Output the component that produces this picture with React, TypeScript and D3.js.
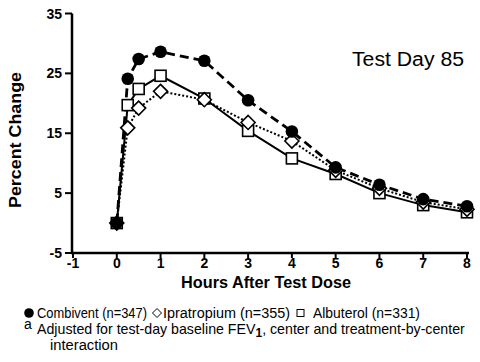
import React from "react";
import * as d3 from "d3";

const hours = [0, 0.25, 0.5, 1, 2, 3, 4, 5, 6, 7, 8];
const combivent = [0, 24.1, 27.4, 28.6, 27.1, 20.5, 15.3, 9.3, 6.4, 4.0, 2.8];
const ipratropium = [0, 15.9, 19.2, 22.0, 20.6, 16.8, 13.7, 8.8, 5.8, 3.5, 2.3];
const albuterol = [0, 19.7, 22.4, 24.6, 20.8, 15.4, 10.8, 8.2, 5.0, 3.0, 1.8];
const xTicks = [-1, 0, 1, 2, 3, 4, 5, 6, 7, 8];
const yTicks = [-5, 5, 15, 25, 35];

const FONT = "'Liberation Sans Narrow', 'Arial Narrow', 'Liberation Sans', Arial, sans-serif";
const FONT_REG = "'Liberation Sans', Arial, sans-serif";

export default function App() {
  const x = d3.scaleLinear().domain([-1, 8]).range([73, 467]);
  const y = d3.scaleLinear().domain([-5, 35]).range([253, 13.5]);
  const line = (vals: number[]) =>
    d3.line<number>().x((_, i) => x(hours[i])).y((v) => y(v))(vals) || "";

  const diamond = (cx: number, cy: number, r: number) =>
    `M${cx},${cy - r}L${cx + r},${cy}L${cx},${cy + r}L${cx - r},${cy}Z`;

  return (
    <svg width={480} height={362} style={{ position: "absolute", left: 0, top: 0, background: "#fff" }}>
      {/* axes */}
      <line x1={72} x2={72} y1={y(35)} y2={y(-5) + 1} stroke="#000" strokeWidth={2.5} />
      <line x1={71} x2={469} y1={y(-5)} y2={y(-5)} stroke="#000" strokeWidth={2.5} />
      {yTicks.map((t) => (
        <g key={"y" + t}>
          <line x1={65} x2={72} y1={y(t)} y2={y(t)} stroke="#000" strokeWidth={2} />
          <text x={62} y={y(t) + 5} textAnchor="end" fontFamily={FONT} fontWeight="bold" fontSize={14}>
            {t}
          </text>
        </g>
      ))}
      {xTicks.map((t) => (
        <g key={"x" + t}>
          <line x1={x(t)} x2={x(t)} y1={y(-5)} y2={y(-5) + 5} stroke="#000" strokeWidth={2} />
          <text x={x(t)} y={268} textAnchor="middle" fontFamily={FONT} fontWeight="bold" fontSize={14}>
            {t}
          </text>
        </g>
      ))}
      <text
        transform="translate(21,140) rotate(-90)"
        textAnchor="middle"
        fontFamily={FONT}
        fontWeight="bold"
        fontSize={17}
        textLength={136}
        lengthAdjust="spacingAndGlyphs"
      >
        Percent Change
      </text>
      <text x={266} y={288} textAnchor="middle" fontFamily={FONT} fontWeight="bold" fontSize={17} textLength={170} lengthAdjust="spacingAndGlyphs">
        Hours After Test Dose
      </text>
      <text x={352} y={66} fontFamily={FONT_REG} fontSize={19.5} textLength={112} lengthAdjust="spacingAndGlyphs">
        Test Day 85
      </text>

      {/* lines */}
      <path d={line(albuterol)} fill="none" stroke="#000" strokeWidth={2} />
      <path d={line(ipratropium)} fill="none" stroke="#000" strokeWidth={2} strokeDasharray="2,2" />
      <path d={line(combivent)} fill="none" stroke="#000" strokeWidth={2.8} strokeDasharray="9,5" />

      {/* markers */}
      {albuterol.map((v, i) => (
        <rect key={"a" + i} x={x(hours[i]) - 5.5} y={y(v) - 5.5} width={11} height={11} fill="#fff" stroke="#000" strokeWidth={1.6} />
      ))}
      {ipratropium.map((v, i) => (
        <path key={"p" + i} d={diamond(x(hours[i]), y(v), 7)} fill="#fff" stroke="#000" strokeWidth={1.6} />
      ))}
      {combivent.map((v, i) => (
        <circle key={"c" + i} cx={x(hours[i])} cy={y(v)} r={6.3} fill="#000" />
      ))}

      {/* legend */}
      <circle cx={29} cy={313} r={4.8} fill="#000" />
      <text x={37} y={318} fontFamily={FONT} fontSize={14} textLength={110} lengthAdjust="spacingAndGlyphs">
        Combivent (n=347)
      </text>
      <path d={diamond(157, 313, 4.5)} fill="#fff" stroke="#000" strokeWidth={1} />
      <text x={163} y={318} fontFamily={FONT} fontSize={14} textLength={127} lengthAdjust="spacingAndGlyphs">
        Ipratropium (n=355)
      </text>
      <rect x={297} y={309.5} width={7} height={7} fill="#fff" stroke="#000" strokeWidth={1} />
      <text x={313} y={318} fontFamily={FONT} fontSize={14} textLength={107} lengthAdjust="spacingAndGlyphs">
        Albuterol (n=331)
      </text>
      <text x={24} y={329} fontFamily={FONT} fontSize={14}>a</text>
      <text x={37} y={334} fontFamily={FONT} fontSize={14.2}>
        <tspan>Adjusted for test-day baseline FEV</tspan>
        <tspan dy={3} fontSize={12} fontWeight="bold">1</tspan>
        <tspan dy={-3}>, center and treatment-by-center</tspan>
      </text>
      <text x={50} y={350} fontFamily={FONT} fontSize={14} textLength={68} lengthAdjust="spacingAndGlyphs">
        interaction
      </text>
    </svg>
  );
}
